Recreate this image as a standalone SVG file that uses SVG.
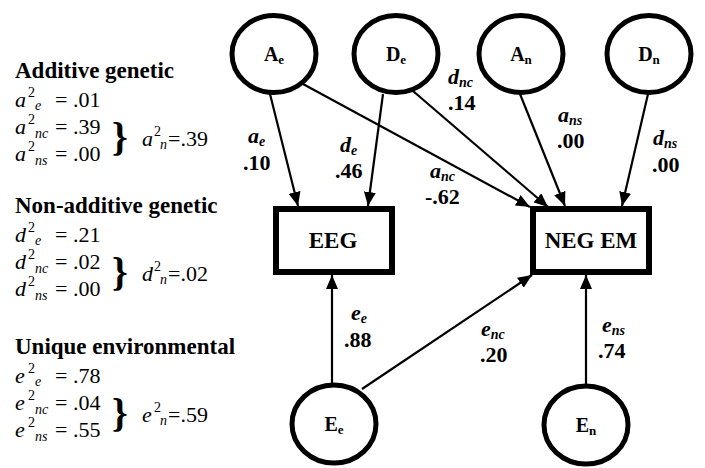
<svg xmlns="http://www.w3.org/2000/svg" width="705" height="468" viewBox="0 0 705 468">
<style>
text { font-family: "Liberation Serif", "Times New Roman", serif; fill:#000; }
.title { font-weight:bold; font-size:23px; }
.row { font-size:22px; }
.it { font-style:italic; }
.sup { font-size:14px; }
.sub { font-size:14px; font-style:italic; }
.brace { font-weight:bold; font-size:40px; }
.node { fill:#fff; stroke:#000; stroke-width:5; }
.box { fill:#fff; stroke:#000; stroke-width:6; }
.nl { font-weight:bold; font-size:20px; text-anchor:middle; }
.nsub { font-size:13px; }
.bl { font-weight:bold; font-size:23px; text-anchor:middle; }
.el { font-weight:bold; font-size:22px; }
.esub { font-size:14px; font-style:italic; }
.conn line { stroke:#000; stroke-width:2.2; marker-end:url(#ah); }
</style>
<defs>
<marker id="ah" viewBox="0 0 14 12" refX="14" refY="6" markerWidth="14" markerHeight="12" markerUnits="userSpaceOnUse" orient="auto">
<path d="M0,0 L14,6 L0,12 z" fill="#000"/>
</marker>
</defs>
<rect width="705" height="468" fill="#fff"/>

<g id="legend">
<g id="additive">
<text class="title" x="15" y="78">Additive genetic</text>
<text class="row" x="15" y="107"><tspan class="it">a</tspan><tspan class="sup" x="28" y="97">2</tspan><tspan class="sub" x="35" y="110">e</tspan><tspan x="55" y="107">= .01</tspan></text>
<text class="row" x="15" y="134"><tspan class="it">a</tspan><tspan class="sup" x="28" y="124">2</tspan><tspan class="sub" x="35" y="138">nc</tspan><tspan x="55" y="134">= .39</tspan></text>
<text class="row" x="15" y="161"><tspan class="it">a</tspan><tspan class="sup" x="28" y="151">2</tspan><tspan class="sub" x="35" y="165">ns</tspan><tspan x="55" y="161">= .00</tspan></text>
<text class="brace" x="112" y="150">}</text>
<text class="row" x="142" y="146"><tspan class="it">a</tspan><tspan class="sup" x="154" y="136">2</tspan><tspan class="sub" x="160" y="149">n</tspan><tspan x="168" y="146">=.39</tspan></text>
</g>
<g id="nonadditive">
<text class="title" x="15" y="213">Non-additive genetic</text>
<text class="row" x="15" y="242"><tspan class="it">d</tspan><tspan class="sup" x="28" y="232">2</tspan><tspan class="sub" x="35" y="245">e</tspan><tspan x="55" y="242">= .21</tspan></text>
<text class="row" x="15" y="269"><tspan class="it">d</tspan><tspan class="sup" x="28" y="259">2</tspan><tspan class="sub" x="35" y="273">nc</tspan><tspan x="55" y="269">= .02</tspan></text>
<text class="row" x="15" y="296"><tspan class="it">d</tspan><tspan class="sup" x="28" y="286">2</tspan><tspan class="sub" x="35" y="300">ns</tspan><tspan x="55" y="296">= .00</tspan></text>
<text class="brace" x="112" y="285">}</text>
<text class="row" x="142" y="281"><tspan class="it">d</tspan><tspan class="sup" x="154" y="271">2</tspan><tspan class="sub" x="160" y="284">n</tspan><tspan x="168" y="281">=.02</tspan></text>
</g>
<g id="unique">
<text class="title" x="15" y="354">Unique environmental</text>
<text class="row" x="15" y="383"><tspan class="it">e</tspan><tspan class="sup" x="28" y="373">2</tspan><tspan class="sub" x="35" y="386">e</tspan><tspan x="55" y="383">= .78</tspan></text>
<text class="row" x="15" y="410"><tspan class="it">e</tspan><tspan class="sup" x="28" y="400">2</tspan><tspan class="sub" x="35" y="414">nc</tspan><tspan x="55" y="410">= .04</tspan></text>
<text class="row" x="15" y="437"><tspan class="it">e</tspan><tspan class="sup" x="28" y="427">2</tspan><tspan class="sub" x="35" y="441">ns</tspan><tspan x="55" y="437">= .55</tspan></text>
<text class="brace" x="112" y="426">}</text>
<text class="row" x="142" y="422"><tspan class="it">e</tspan><tspan class="sup" x="154" y="412">2</tspan><tspan class="sub" x="160" y="425">n</tspan><tspan x="168" y="422">=.59</tspan></text>
</g>
</g>

<g id="connectors" class="conn">
<line x1="270" y1="94" x2="298" y2="206"/>
<line x1="383" y1="94" x2="368" y2="206"/>
<line x1="303" y1="84" x2="530" y2="207"/>
<line x1="413" y1="91" x2="548" y2="207"/>
<line x1="520" y1="94" x2="565" y2="206"/>
<line x1="648" y1="94" x2="622" y2="206"/>
<line x1="332" y1="383" x2="332" y2="275"/>
<line x1="362" y1="389" x2="532" y2="275"/>
<line x1="586" y1="384" x2="586" y2="275"/>
</g>

<g id="edge-labels">
<text class="el" x="248" y="143"><tspan class="it">a</tspan><tspan class="esub" dy="3">e</tspan></text>
<text class="el" x="243" y="170">.10</text>
<text class="el" x="340" y="152"><tspan class="it">d</tspan><tspan class="esub" dy="3">e</tspan></text>
<text class="el" x="335" y="178">.46</text>
<text class="el" x="430" y="178"><tspan class="it">a</tspan><tspan class="esub" dy="3">nc</tspan></text>
<text class="el" x="425" y="204">-.62</text>
<text class="el" x="448" y="84"><tspan class="it">d</tspan><tspan class="esub" dy="3">nc</tspan></text>
<text class="el" x="448" y="110">.14</text>
<text class="el" x="558" y="122"><tspan class="it">a</tspan><tspan class="esub" dy="3">ns</tspan></text>
<text class="el" x="557" y="148">.00</text>
<text class="el" x="653" y="145"><tspan class="it">d</tspan><tspan class="esub" dy="3">ns</tspan></text>
<text class="el" x="652" y="172">.00</text>
<text class="el" x="351" y="320"><tspan class="it">e</tspan><tspan class="esub" dy="3">e</tspan></text>
<text class="el" x="344" y="347">.88</text>
<text class="el" x="481" y="336"><tspan class="it">e</tspan><tspan class="esub" dy="3">nc</tspan></text>
<text class="el" x="480" y="362">.20</text>
<text class="el" x="602" y="332"><tspan class="it">e</tspan><tspan class="esub" dy="3">ns</tspan></text>
<text class="el" x="598" y="358">.74</text>
</g>

<g id="Ae"><ellipse class="node" cx="274" cy="54" rx="42" ry="38.5"/><text class="nl" x="274" y="61">A<tspan class="nsub" dy="3">e</tspan></text></g>
<g id="De"><ellipse class="node" cx="396" cy="54" rx="42" ry="38.5"/><text class="nl" x="396" y="61">D<tspan class="nsub" dy="3">e</tspan></text></g>
<g id="An"><ellipse class="node" cx="521" cy="54" rx="42" ry="38.5"/><text class="nl" x="521" y="61">A<tspan class="nsub" dy="3">n</tspan></text></g>
<g id="Dn"><ellipse class="node" cx="649" cy="54" rx="42" ry="38.5"/><text class="nl" x="649" y="61">D<tspan class="nsub" dy="3">n</tspan></text></g>
<g id="EEG"><rect class="box" x="276" y="209" width="116" height="63"/><text class="bl" x="333" y="248">EEG</text></g>
<g id="NEGEM"><rect class="box" x="533" y="209" width="116" height="63"/><text class="bl" x="591" y="248">NEG EM</text></g>
<g id="Ee"><ellipse class="node" cx="334" cy="424" rx="42" ry="39"/><text class="nl" x="334" y="431">E<tspan class="nsub" dy="3">e</tspan></text></g>
<g id="En"><ellipse class="node" cx="586" cy="425" rx="42" ry="39"/><text class="nl" x="586" y="432">E<tspan class="nsub" dy="3">n</tspan></text></g>
</svg>
